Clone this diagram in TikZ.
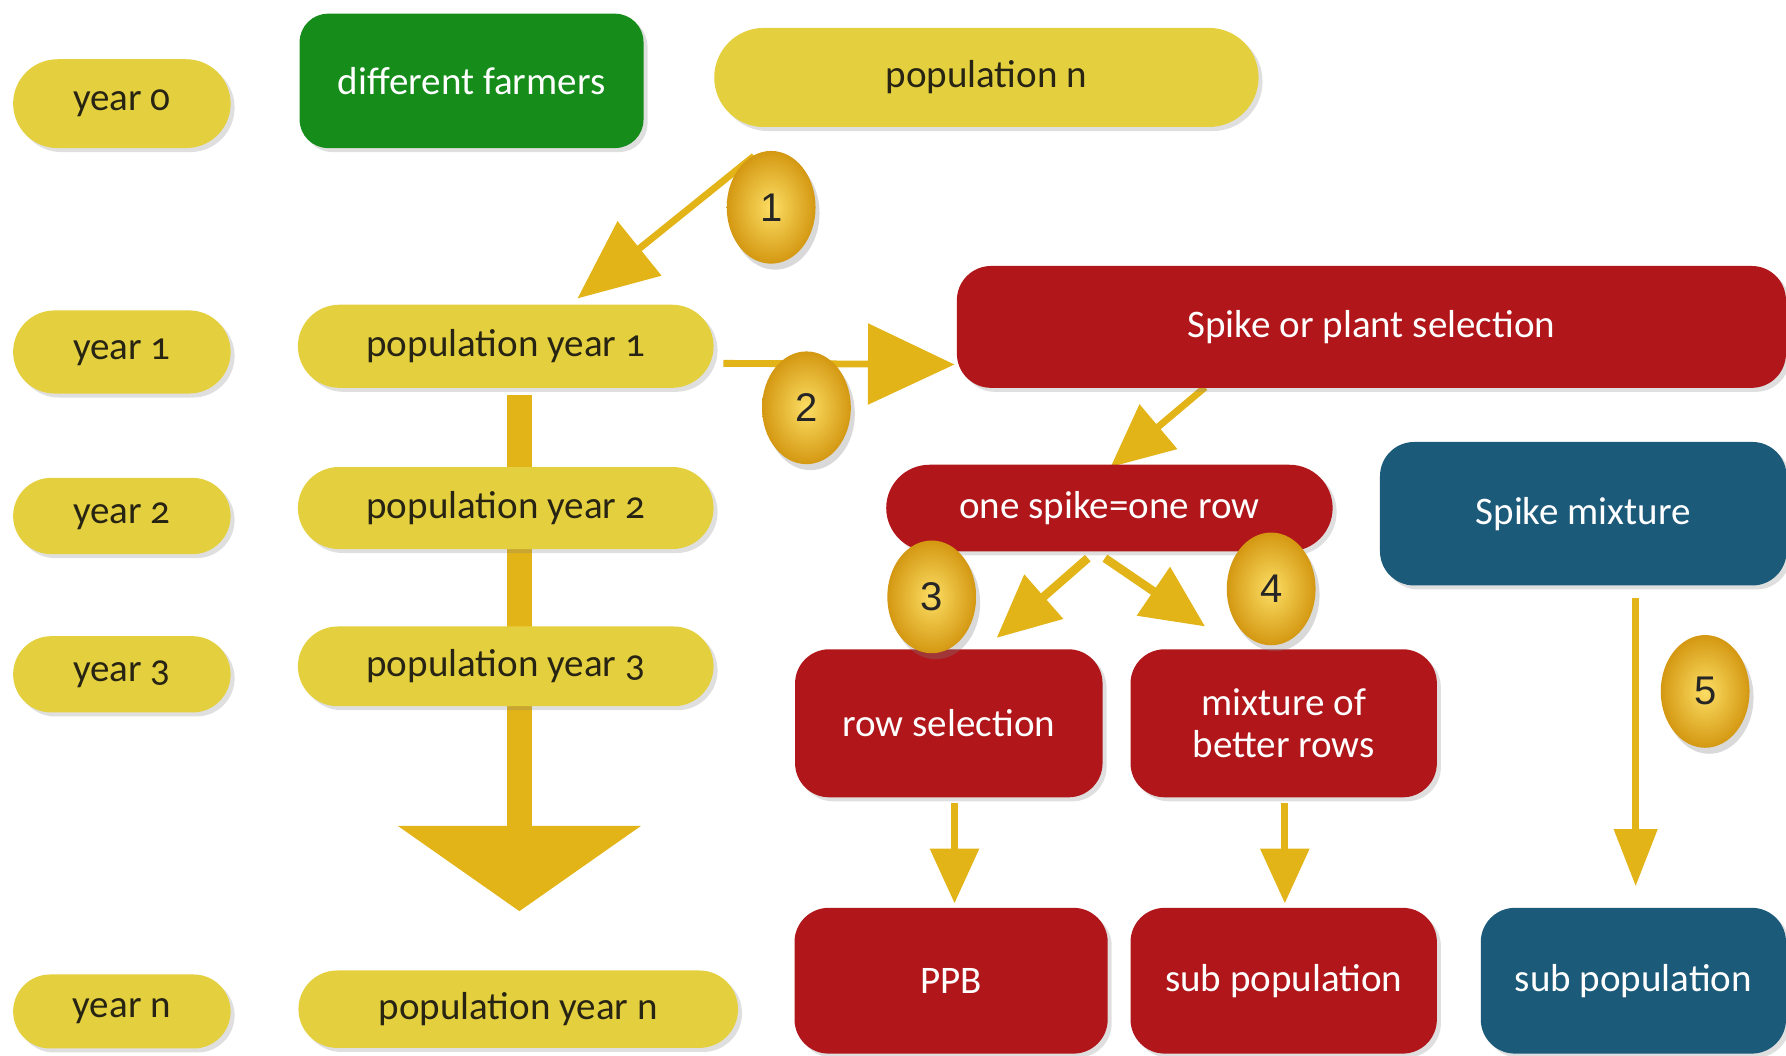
\documentclass[tikz,border=0pt]{standalone}
\usepackage{fontspec}
\setmainfont{Carlito}[Numbers=OldStyle]
\newfontfamily\numfont{Liberation Sans}
\usetikzlibrary{arrows.meta,shapes.geometric,shadows,backgrounds,calc}
\definecolor{yel}{RGB}{228,208,62}
\definecolor{grn}{RGB}{22,140,26}
\definecolor{red}{RGB}{176,22,26}
\definecolor{blu}{RGB}{28,90,122}
\definecolor{gld}{RGB}{226,180,24}
\definecolor{gldhi}{RGB}{252,222,100}
\definecolor{glddk}{RGB}{212,152,18}
\definecolor{txt}{RGB}{40,36,20}
\tikzset{
  base/.style={inner sep=0pt, align=center, font=\fontsize{19.5}{19}\selectfont,
    drop shadow={opacity=0.25, shadow xshift=2pt, shadow yshift=-2pt}},
  ypill/.style={base, fill=yel, text=txt},
  cbox/.style={base, text=white, rounded corners=0.6cm},
  badge/.style={ellipse, minimum width=1.56cm, minimum height=1.98cm, inner sep=0pt,
    inner color=gldhi, outer color=glddk, font=\numfont\fontsize{20}{20}\selectfont, text=black!85,
    drop shadow={opacity=0.3, shadow xshift=2pt, shadow yshift=-3pt}},
  thin/.style={draw=gld, line width=0.12cm},
}
\begin{document}
\begin{tikzpicture}[x={(0.02cm,0)}, y={(0,-0.02cm)}]
\useasboundingbox (0,0) rectangle (1568,927);
% year column
\node[ypill, minimum width=3.82cm, minimum height=1.56cm, rounded corners=0.78cm] (y0) at (107,91) {year 0};
\node[ypill, minimum width=3.82cm, minimum height=1.46cm, rounded corners=0.73cm] (y1) at (107,309) {year 1};
\node[ypill, minimum width=3.82cm, minimum height=1.34cm, rounded corners=0.67cm] (y2) at (107,453) {year 2};
\node[ypill, minimum width=3.82cm, minimum height=1.34cm, rounded corners=0.67cm] (y3) at (107,592) {year 3};
\node[ypill, minimum width=3.82cm, minimum height=1.30cm, rounded corners=0.65cm] (yn) at (107,888) {year n};
% population column
\node[cbox, fill=grn, minimum width=6.04cm, minimum height=2.36cm, rounded corners=0.5cm] (df) at (414,71) {different farmers};
\node[ypill, minimum width=9.56cm, minimum height=1.74cm, rounded corners=0.87cm] (pn) at (866,68) {population n};
\node[ypill, minimum width=7.3cm, minimum height=1.46cm, rounded corners=0.73cm] (p1) at (444,304) {population year 1};
\node[ypill, minimum width=7.3cm, minimum height=1.44cm, rounded corners=0.72cm] (p2) at (444,446) {population year 2};
\node[ypill, minimum width=7.3cm, minimum height=1.40cm, rounded corners=0.70cm] (p3) at (444,585) {population year 3};
\node[ypill, minimum width=7.72cm, minimum height=1.36cm, rounded corners=0.68cm] (pN) at (455,886) {population year n};
% red branch
\node[cbox, fill=red, minimum width=14.56cm, minimum height=2.14cm] (sp) at (1204,287) {Spike or plant selection};
\node[cbox, fill=red, minimum width=7.84cm, minimum height=1.52cm, rounded corners=0.76cm] (os) at (974,446) {one spike=one row};
\node[cbox, fill=red, minimum width=5.4cm, minimum height=2.6cm] (rs) at (833,635) {row selection};
\node[cbox, fill=red, minimum width=5.38cm, minimum height=2.6cm, font=\fontsize{19.5}{21}\selectfont] (mb) at (1127,635) {mixture of\\better rows};
\node[cbox, fill=red, minimum width=5.5cm, minimum height=2.56cm] (ppb) at (835,861) {PPB};
\node[cbox, fill=red, minimum width=5.38cm, minimum height=2.56cm] (sr) at (1127,861) {sub population};
% blue branch
\node[cbox, fill=blu, minimum width=7.14cm, minimum height=2.52cm] (sm) at (1390,451) {Spike mixture};
\node[cbox, fill=blu, minimum width=5.36cm, minimum height=2.56cm] (sb) at (1434,861) {sub population};
% free ends
\coordinate (c1) at (662,137);
\coordinate (t1) at (507,262);
\coordinate (c2) at (635,319);
\coordinate (t2) at (838,320);
\coordinate (cb) at (456,347);
\coordinate (tb) at (456,800);
\coordinate (cs) at (1058,340);
\coordinate (ts) at (975,410);
\coordinate (c3) at (955,490);
\coordinate (t3) at (875,560);
\coordinate (c4) at (970,490);
\coordinate (t4) at (1058,550);
\coordinate (c5) at (1436,525);
\coordinate (t5) at (1436,778);
\coordinate (cr) at (838,705);
\coordinate (tr) at (838,793);
\coordinate (cm) at (1128,705);
\coordinate (tm) at (1128,793);
\begin{pgfonlayer}{background}
\draw[thin, -{Triangle[length=1.4cm,width=1.2cm]}] (c1) -- (t1);
\draw[thin, -{Triangle[length=1.52cm,width=1.4cm]}] (c2) -- (t2);
\draw[draw=gld, line width=0.44cm, -{Triangle[length=1.5cm,width=4.2cm]}] (cb) -- (tb);
\draw[thin, -{Triangle[length=1.1cm,width=1.0cm]}] (cs) -- (ts);
\draw[thin, line width=0.15cm, -{Triangle[length=1.1cm,width=1.0cm]}] (c3) -- (t3);
\draw[thin, line width=0.15cm, -{Triangle[length=1.1cm,width=1.0cm]}] (c4) -- (t4);
\draw[thin, -{Triangle[length=1.0cm,width=0.74cm]}] (c5) -- (t5);
\draw[thin, -{Triangle[length=0.96cm,width=0.84cm]}] (cr) -- (tr);
\draw[thin, -{Triangle[length=0.96cm,width=0.84cm]}] (cm) -- (tm);
\end{pgfonlayer}
% badges
\node[badge] (b1) at (677,182) {1};
\node[badge] (b2) at (708,358) {2};
\node[badge] (b3) at (818,524) {3};
\node[badge] (b4) at (1116,517) {4};
\node[badge] (b5) at (1497,607) {5};
\end{tikzpicture}
\end{document}
